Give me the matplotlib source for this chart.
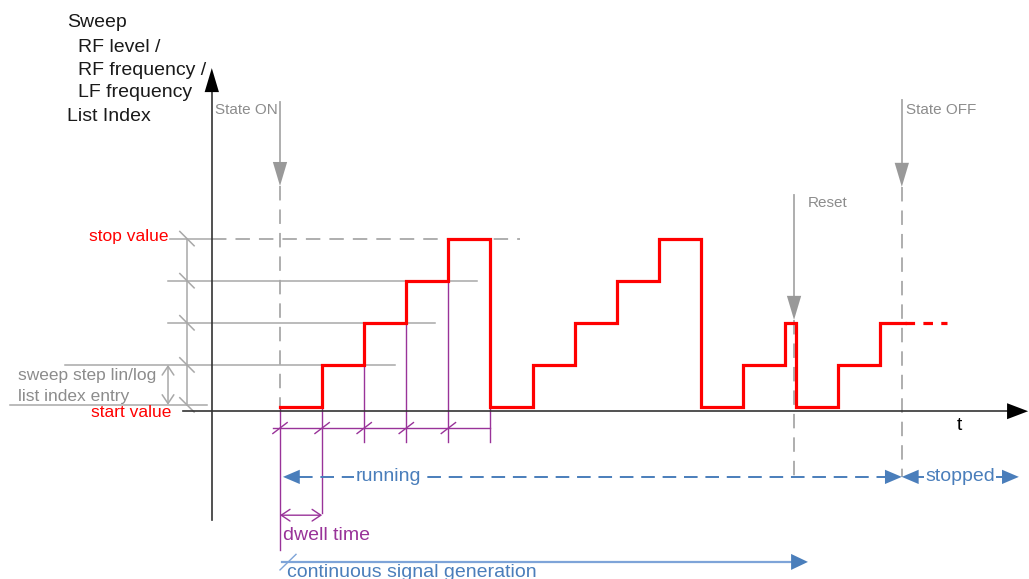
import matplotlib.pyplot as plt
from matplotlib.patches import Polygon

plt.rcParams['font.family'] = ['Liberation Sans', 'DejaVu Sans']

# sweep signal: x in dwell-time units (0 = State ON), y in sweep step index
step_times = [0, 1, 2, 3, 4, 5, 6, 7, 8, 9, 10, 11, 12, 12.25, 13.25, 14.25, 14.85]
step_levels = [0, 1, 2, 3, 4, 0, 1, 2, 3, 4, 0, 1, 2, 0, 1, 2, 2]
tail_times = [14.85, 15.84]
tail_levels = [2, 2]

levels = [0, 1, 2, 3, 4]
level_line_start = [-6.41, -5.11, -2.66, -2.66, -2.61]
level_line_end = [-1.73, 2.73, 3.68, 4.68, 5.70]

dwell_marks = [0, 1, 2, 3, 4, 5]

event_names = ['State ON', 'Reset', 'State OFF']
event_times = [0, 12.21, 14.77]
event_top = [7.24, 5.04, 7.29]
event_tip = [5.25, 2.07, 5.23]
event_bottom = [0, -1.66, -1.66]
event_label_x = [-1.54, 12.54, 14.87]
event_label_y = [7.05, 4.85, 7.05]

ylabel_lines = ['Sweep', 'RF level /', 'RF frequency /', 'LF frequency', 'List Index']
ylabel_x = [-5.06, -4.80, -4.80, -4.80, -5.06]
ylabel_y = [9.14, 8.55, 8.00, 7.46, 6.89]

U = 42.1  # pixels per unit
RED = '#ff0000'
GRAY = '#a8a8a8'
GRAY_TXT = '#8c8c8c'
PURPLE = '#993399'
BLUE = '#4a7ebb'
LBLUE = '#7ea4d8'
DARK = '#333333'


def head(ax, tip, d, length, hw, color, z=6):
    bx, by = tip[0] - length * d[0], tip[1] - length * d[1]
    px, py = -d[1], d[0]
    ax.add_patch(Polygon([tip, (bx + hw * px, by + hw * py), (bx - hw * px, by - hw * py)],
                         closed=True, color=color, lw=0, zorder=z))


def open_arrow(ax, a, b, color, lw):
    ax.annotate('', xy=b, xytext=a,
                arrowprops=dict(arrowstyle='<->,head_length=0.45,head_width=0.3',
                                color=color, lw=lw, shrinkA=0, shrinkB=0, mutation_scale=14))


fig = plt.figure(figsize=(10.29, 5.79), dpi=100)
ax = fig.add_axes([0, 0, 1, 1])
ax.set_xlim(-280 / U, (1029 - 280) / U)
ax.set_ylim((407 - 579) / U, 407 / U)
ax.axis('off')

# axes with arrows
ax.plot([-1.62, -1.62], [-2.68, 7.6], color=DARK, lw=1.2, zorder=4)
head(ax, (-1.62, 8.05), (0, 1), 0.57, 0.17, 'black')
ax.plot([-2.30, 17.4], [-0.10, -0.10], color=DARK, lw=1.2, zorder=4)
head(ax, (17.77, -0.10), (1, 0), 0.50, 0.19, 'black')
ax.text(16.15, -0.43, 't', fontsize=14, ha='center', va='center', color='black')

for s, x, y in zip(ylabel_lines, ylabel_x, ylabel_y):
    ax.text(x, y, s, fontsize=14, ha='left', va='center', color='#1a1a1a')

# level reference lines
for lv, x0, x1 in zip(levels, level_line_start, level_line_end):
    if lv == 4:
        ax.plot([x0, -1.62], [lv, lv], color=GRAY, lw=1.1, zorder=2)
        ax.plot([-1.62, x1], [lv, lv], color=GRAY, lw=1.3, dashes=(8, 5), zorder=2)
    elif lv == 0:
        ax.plot([x0, x1], [0.05, 0.05], color=GRAY, lw=1.1, zorder=2)
    else:
        ax.plot([x0, x1], [lv, lv], color=GRAY, lw=1.1, zorder=2)

# vertical dimension line with ticks
ax.plot([-2.21, -2.21], [0.05, 4], color=GRAY, lw=1.1)
for lv in levels:
    y = 0.05 if lv == 0 else lv
    ax.plot([-2.38, -2.04], [y + 0.17, y - 0.17], color=GRAY, lw=1.1)
open_arrow(ax, (-2.66, 1), (-2.66, 0.05), GRAY, 1.1)
ax.text(-6.22, 0.76, 'sweep step lin/log', fontsize=12.5, color=GRAY_TXT, ha='left', va='center')
ax.text(-6.22, 0.26, 'list index entry', fontsize=12.5, color=GRAY_TXT, ha='left', va='center')
ax.text(-2.66, 4.06, 'stop value', fontsize=12.5, color=RED, ha='right', va='center')
ax.text(-2.57, -0.14, 'start value', fontsize=12.5, color=RED, ha='right', va='center')

# events
for name, t, top, tip, bot, lx, ly in zip(event_names, event_times, event_top, event_tip,
                                           event_bottom, event_label_x, event_label_y):
    ax.plot([t, t], [top, tip + 0.4], color=GRAY, lw=1.3, zorder=3)
    head(ax, (t, tip), (0, -1), 0.57, 0.17, '#999999')
    ax.plot([t, t], [tip, bot], color=GRAY, lw=1.3, dashes=(8, 5), zorder=2)
    ax.text(lx, ly, name, fontsize=11, color=GRAY_TXT, ha='left', va='center')

# dwell time markers
ax.plot([-0.17, 5.0], [-0.50, -0.50], color=PURPLE, lw=1.0, zorder=3)
for t in dwell_marks:
    top = 0 if t in (0, 1, 5) else t - 1
    bot = -3.40 if t == 0 else (-2.52 if t == 1 else -0.83)
    ax.plot([t, t], [top, bot], color=PURPLE, lw=1.0, zorder=3)
    if t < 5:
        ax.plot([t - 0.17, t + 0.17], [-0.63, -0.37], color=PURPLE, lw=1.0, zorder=3)
open_arrow(ax, (0, -2.57), (1, -2.57), PURPLE, 1.0)
ax.text(0.07, -3.06, 'dwell time', fontsize=14, color=PURPLE, ha='left', va='center')

# sweep signal
ax.plot(step_times, step_levels, drawstyle='steps-post', color=RED, lw=2.3, zorder=5,
        solid_joinstyle='miter')
ax.plot(tail_times, tail_levels, color=RED, lw=2.3, dashes=(3, 2.6), zorder=5)

# running / stopped
ax.plot([0.45, 14.4], [-1.66, -1.66], color=BLUE, lw=1.4, dashes=(7, 4), zorder=3)
head(ax, (0.07, -1.66), (-1, 0), 0.40, 0.17, BLUE)
head(ax, (14.77, -1.66), (1, 0), 0.40, 0.17, BLUE)
ax.text(2.57, -1.66, 'running', fontsize=14, color=BLUE, ha='center', va='center', zorder=4,
        bbox=dict(facecolor='white', edgecolor='none', pad=1))
ax.plot([15.1, 17.2], [-1.66, -1.66], color=BLUE, lw=1.4, zorder=3)
head(ax, (14.77, -1.66), (-1, 0), 0.40, 0.17, BLUE)
head(ax, (17.55, -1.66), (1, 0), 0.40, 0.17, BLUE)
ax.text(16.15, -1.66, 'stopped', fontsize=14, color=BLUE, ha='center', va='center', zorder=4,
        bbox=dict(facecolor='white', edgecolor='none', pad=1))

# continuous signal generation
ax.plot([0.05, 12.2], [-3.68, -3.68], color=LBLUE, lw=1.6, zorder=3)
ax.plot([0.0, 0.38], [-3.87, -3.50], color=LBLUE, lw=1.0, zorder=3)
head(ax, (12.54, -3.68), (1, 0), 0.40, 0.19, BLUE)
ax.text(0.17, -3.94, 'continuous signal generation', fontsize=14, color=BLUE,
        ha='left', va='center')

fig.savefig('out.png', dpi=100)
